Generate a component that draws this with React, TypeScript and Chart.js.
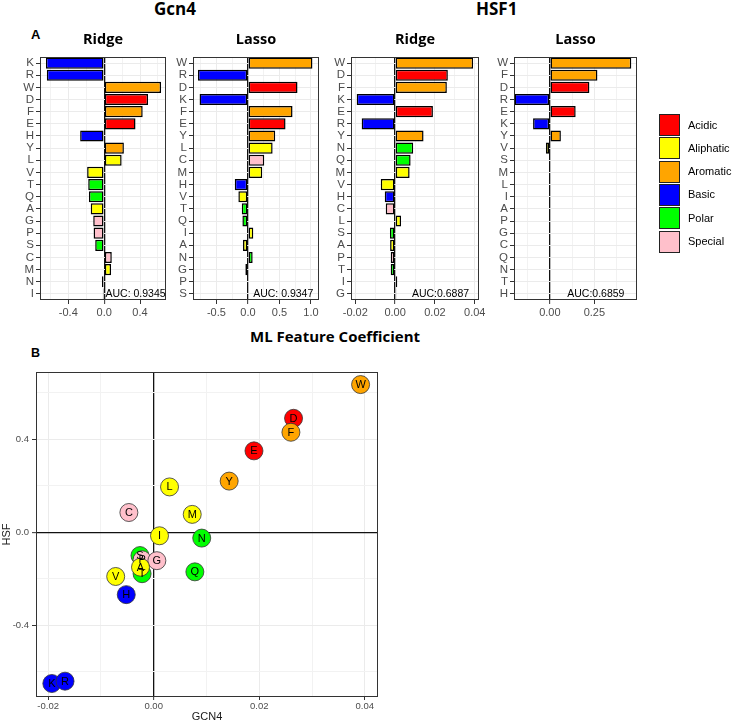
import React, { useEffect, useRef } from "react";
import { Chart, registerables } from "chart.js";

Chart.register(...registerables);

// ---------------- data ----------------
const classNames = ["Acidic", "Aliphatic", "Aromatic", "Basic", "Polar", "Special"];
const classColors = ["#FF0000", "#FFFF00", "#FFA500", "#0000FF", "#00FF00", "#FFC0CB"];
const aminoAcids = ["A", "C", "D", "E", "F", "G", "H", "I", "K", "L", "M", "N", "P", "Q", "R", "S", "T", "V", "W", "Y"];
const aminoClass = [1, 5, 0, 0, 2, 5, 3, 1, 3, 1, 1, 4, 5, 4, 3, 4, 4, 1, 2, 2];

const gcn4RidgeOrder = ["K", "R", "W", "D", "F", "E", "H", "Y", "L", "V", "T", "Q", "A", "G", "P", "S", "C", "M", "N", "I"];
const gcn4RidgeValues = [-0.65, -0.64, 0.635, 0.49, 0.43, 0.35, -0.268, 0.22, 0.195, -0.19, -0.178, -0.17, -0.15, -0.122, -0.118, -0.1, 0.085, 0.077, -0.025, -0.015];

const gcn4LassoOrder = ["W", "R", "D", "K", "F", "E", "Y", "L", "C", "M", "H", "V", "T", "Q", "I", "A", "N", "G", "P", "S"];
const gcn4LassoValues = [1.024, -0.793, 0.787, -0.768, 0.708, 0.597, 0.433, 0.392, 0.259, 0.227, -0.209, -0.152, -0.098, -0.088, 0.085, -0.078, 0.075, -0.041, 0, 0];

const hsf1RidgeOrder = ["W", "D", "F", "K", "E", "R", "Y", "N", "Q", "M", "V", "H", "C", "L", "S", "A", "P", "T", "I", "G"];
const hsf1RidgeValues = [0.0392, 0.0265, 0.026, -0.0193, 0.019, -0.0168, 0.0143, 0.0091, 0.0078, 0.0073, -0.0072, -0.0052, -0.0047, 0.003, -0.0026, -0.0025, -0.0022, -0.0022, 0.0011, 0.0006];

const hsf1LassoOrder = ["W", "F", "D", "R", "E", "K", "Y", "V", "S", "M", "L", "I", "A", "P", "G", "C", "Q", "N", "T", "H"];
const hsf1LassoValues = [0.457, 0.267, 0.222, -0.198, 0.145, -0.094, 0.062, -0.022, 0, 0, 0, 0, 0, 0, 0, 0, 0, 0, 0, 0];

// drawing order of the scatter points (later ones on top)
const scatterOrder = ["K", "R", "W", "D", "F", "E", "H", "Y", "L", "V", "Q", "S", "P", "G", "T", "A", "C", "M", "N", "I"];

const gcn4RidgeTicks = [-0.4, 0, 0.4];
const gcn4RidgeTickLabels = ["-0.4", "0.0", "0.4"];
const gcn4RidgeMinor = [-0.6, -0.2, 0.2, 0.6];
const gcn4LassoTicks = [-0.5, 0, 0.5, 1.0];
const gcn4LassoTickLabels = ["-0.5", "0.0", "0.5", "1.0"];
const gcn4LassoMinor = [-0.75, -0.25, 0.25, 0.75];
const hsf1RidgeTicks = [-0.02, 0, 0.02, 0.04];
const hsf1RidgeTickLabels = ["-0.02", "0.00", "0.02", "0.04"];
const hsf1RidgeMinor = [-0.01, 0.01, 0.03];
const hsf1LassoTicks = [0, 0.25];
const hsf1LassoTickLabels = ["0.00", "0.25"];
const hsf1LassoMinor = [-0.125, 0.125, 0.375];

const scatterXTicks = [-0.02, 0, 0.02, 0.04];
const scatterXTickLabels = ["-0.02", "0.00", "0.02", "0.04"];
const scatterXMinor = [-0.01, 0.01, 0.03];
const scatterYTicks = [-0.4, 0, 0.4];
const scatterYTickLabels = ["-0.4", "0.0", "0.4"];
const scatterYMinor = [-0.6, -0.2, 0.2, 0.6];

const aucTexts = ["AUC: 0.9345", "AUC: 0.9347", "AUC:0.6887", "AUC:0.6859"];
const aucXs = [0.35, 0.56, 0.0228, 0.258];
const methodTitles = ["Ridge", "Lasso", "Ridge", "Lasso"];
const groupTitles = ["Gcn4", "HSF1"];

// ---------------- helpers ----------------
const FONT = "'Liberation Sans', Arial, sans-serif";
const BOLD_FONT = "'Open Sans', 'DejaVu Sans', sans-serif";
const colorOf = (aa: string) => classColors[aminoClass[aminoAcids.indexOf(aa)]];
const lookup = (order: string[], values: number[], aa: string) => values[order.indexOf(aa)];
const near = (a: number, b: number) => Math.abs(a - b) < 1e-9;

function linearAxis(o: any) {
  const all = [...o.major, ...o.minor].sort((a: number, b: number) => a - b);
  const isMajor = (v: number) => o.major.some((m: number) => near(m, v));
  return {
    type: "linear",
    position: o.position,
    min: o.min,
    max: o.max,
    afterBuildTicks: (s: any) => {
      s.ticks = all.map((v: number) => ({ value: v }));
    },
    afterFit: (s: any) => {
      if (o.position === "bottom") s.height = o.size;
      else s.width = o.size;
    },
    title: o.title
      ? { display: true, text: o.title, font: { family: FONT, size: 11 }, color: "#1a1a1a", padding: 0 }
      : { display: false },
    ticks: {
      autoSkip: false,
      maxRotation: 0,
      minRotation: 0,
      padding: o.pad,
      color: "#4D4D4D",
      font: { family: FONT, size: o.fontSize },
      callback: (v: number) => {
        const i = o.major.findIndex((m: number) => near(m, v));
        return i >= 0 ? o.labels[i] : "";
      },
    },
    grid: {
      drawTicks: true,
      tickLength: o.tickLen,
      color: (c: any) => (c.tick && near(c.tick.value, 0) ? "#111" : c.tick && isMajor(c.tick.value) ? "#EBEBEB" : "#F2F2F2"),
      lineWidth: (c: any) => (c.tick && near(c.tick.value, 0) ? 1.3 : 1),
      tickColor: (c: any) => (c.tick && isMajor(c.tick.value) ? "#333" : "rgba(0,0,0,0)"),
      tickWidth: 1,
    },
    border: { display: false },
  };
}

const frame = {
  id: "frame",
  afterDatasetsDraw(chart: any) {
    const { ctx, chartArea: a } = chart;
    ctx.save();
    ctx.strokeStyle = "#333";
    ctx.lineWidth = 1;
    ctx.strokeRect(a.left + 0.5, a.top + 0.5, a.width - 1, a.height - 1);
    ctx.restore();
  },
};

function barConfig(order: string[], values: number[], p: any) {
  const panelText = {
    id: "panelText",
    afterDraw(chart: any) {
      const { ctx, chartArea: a, scales } = chart;
      ctx.save();
      ctx.fillStyle = "#000";
      ctx.textAlign = "center";
      ctx.textBaseline = "middle";
      ctx.font = `bold 14.5px ${BOLD_FONT}`;
      ctx.fillText(p.title, (a.left + a.right) / 2, a.top - 17);
      ctx.font = `10.5px ${FONT}`;
      ctx.fillText(p.auc, scales.x.getPixelForValue(p.aucX), scales.y.getPixelForValue(order.length - 1));
      ctx.restore();
    },
  };
  return {
    type: "bar",
    data: {
      labels: order,
      datasets: [
        {
          data: values,
          backgroundColor: order.map(colorOf),
          borderColor: "#000",
          borderWidth: 1.5,
          borderSkipped: false,
          barPercentage: 0.92,
          categoryPercentage: 1,
        },
      ],
    },
    options: {
      indexAxis: "y",
      animation: false,
      responsive: false,
      devicePixelRatio: 1,
      events: [],
      layout: { padding: { top: 29, right: 10, bottom: 0, left: 0 } },
      plugins: { legend: { display: false }, tooltip: { enabled: false } },
      scales: {
        x: linearAxis({
          position: "bottom",
          min: p.min,
          max: p.max,
          major: p.major,
          labels: p.labels,
          minor: p.minor,
          fontSize: 11,
          tickLen: 4,
          pad: 2,
          size: 22,
        }),
        y: {
          type: "category",
          position: "left",
          afterFit: (s: any) => {
            s.width = 34;
          },
          ticks: { autoSkip: false, padding: 2, color: "#4D4D4D", font: { family: FONT, size: 11.5 } },
          grid: { offset: false, color: "#EBEBEB", tickColor: "#333", tickLength: 4 },
          border: { display: false },
        },
      },
    },
    plugins: [frame, panelText],
  };
}

function scatterConfig() {
  const order = scatterOrder;
  const points = order.map((aa) => ({
    x: lookup(hsf1RidgeOrder, hsf1RidgeValues, aa),
    y: lookup(gcn4RidgeOrder, gcn4RidgeValues, aa),
  }));
  const pointText = {
    id: "pointText",
    afterDatasetsDraw(chart: any) {
      const { ctx } = chart;
      const meta = chart.getDatasetMeta(0);
      ctx.save();
      ctx.fillStyle = "#000";
      ctx.textAlign = "center";
      ctx.textBaseline = "middle";
      ctx.font = `11px ${FONT}`;
      meta.data.forEach((el: any, i: number) => ctx.fillText(order[i], el.x, el.y + 0.5));
      ctx.restore();
    },
  };
  return {
    type: "scatter",
    data: {
      datasets: [
        {
          data: points,
          pointRadius: 9,
          pointBackgroundColor: order.map(colorOf),
          pointBorderColor: "#333",
          pointBorderWidth: 0.8,
        },
      ],
    },
    options: {
      animation: false,
      responsive: false,
      devicePixelRatio: 1,
      events: [],
      layout: { padding: { top: 10, right: 12, bottom: 0, left: 0 } },
      plugins: { legend: { display: false }, tooltip: { enabled: false } },
      scales: {
        x: linearAxis({
          position: "bottom",
          min: -0.0223,
          max: 0.0425,
          major: scatterXTicks,
          labels: scatterXTickLabels,
          minor: scatterXMinor,
          fontSize: 9.5,
          tickLen: 3,
          pad: 1,
          size: 27,
          title: "GCN4",
        }),
        y: linearAxis({
          position: "left",
          min: -0.708,
          max: 0.689,
          major: scatterYTicks,
          labels: scatterYTickLabels,
          minor: scatterYMinor,
          fontSize: 9.5,
          tickLen: 4,
          pad: 3,
          size: 36,
          title: "HSF",
        }),
      },
    },
    plugins: [frame, pointText],
  };
}

function ChartBox(props: { left: number; top: number; width: number; height: number; build: () => any }) {
  const ref = useRef<HTMLCanvasElement>(null);
  useEffect(() => {
    const chart = new Chart(ref.current as HTMLCanvasElement, props.build());
    return () => chart.destroy();
  }, []);
  return (
    <canvas
      ref={ref}
      width={props.width}
      height={props.height}
      style={{ position: "absolute", left: props.left, top: props.top, width: props.width, height: props.height }}
    />
  );
}

// plot-area placement (page px)
const barPanels = [
  { l: 40, r: 166, order: gcn4RidgeOrder, values: gcn4RidgeValues, min: -0.716, max: 0.69, major: gcn4RidgeTicks, labels: gcn4RidgeTickLabels, minor: gcn4RidgeMinor },
  { l: 193, r: 319, order: gcn4LassoOrder, values: gcn4LassoValues, min: -0.872, max: 1.128, major: gcn4LassoTicks, labels: gcn4LassoTickLabels, minor: gcn4LassoMinor },
  { l: 351, r: 479, order: hsf1RidgeOrder, values: hsf1RidgeValues, min: -0.02215, max: 0.04215, major: hsf1RidgeTicks, labels: hsf1RidgeTickLabels, minor: hsf1RidgeMinor },
  { l: 514, r: 637, order: hsf1LassoOrder, values: hsf1LassoValues, min: -0.201, max: 0.489, major: hsf1LassoTicks, labels: hsf1LassoTickLabels, minor: hsf1LassoMinor },
];

export default function App() {
  const bold = (size: number, fam = BOLD_FONT) => ({ fontFamily: fam, fontWeight: 700, fontSize: size, lineHeight: 1, color: "#000" });
  return (
    <div style={{ position: "absolute", left: 0, top: 0, width: 736, height: 724, background: "#fff", overflow: "hidden" }}>
      <div style={{ position: "absolute", left: 75, top: 0.3, width: 200, textAlign: "center", ...bold(17) }}>{groupTitles[0]}</div>
      <div style={{ position: "absolute", left: 396.7, top: 0.3, width: 200, textAlign: "center", ...bold(17) }}>{groupTitles[1]}</div>
      <div style={{ position: "absolute", left: 31, top: 28.3, ...bold(13, FONT) }}>A</div>
      <div style={{ position: "absolute", left: 31, top: 346.7, ...bold(12.5, FONT) }}>B</div>
      <div style={{ position: "absolute", left: 185, top: 329, width: 300, textAlign: "center", ...bold(15) }}>ML Feature Coefficient</div>

      {barPanels.map((p, i) => {
        const left = p.l - 34;
        const width = p.r - left + 10;
        return (
          <ChartBox
            key={i}
            left={left}
            top={28}
            width={width}
            height={294}
            build={() =>
              barConfig(p.order, p.values, {
                min: p.min,
                max: p.max,
                major: p.major,
                labels: p.labels,
                minor: p.minor,
                title: methodTitles[i],
                auc: aucTexts[i],
                aucX: aucXs[i],
              })
            }
          />
        );
      })}

      {classNames.map((name, i) => (
        <React.Fragment key={name}>
          <div
            style={{
              position: "absolute",
              left: 659,
              top: 114 + i * 23.3,
              width: 21,
              height: 22,
              boxSizing: "border-box",
              border: "1.5px solid #222",
              background: classColors[i],
            }}
          />
          <div
            style={{
              position: "absolute",
              left: 688,
              top: 114 + i * 23.3 + 4.5,
              fontFamily: FONT,
              fontSize: 11,
              lineHeight: "13px",
              color: "#000",
            }}
          >
            {name}
          </div>
        </React.Fragment>
      ))}

      <ChartBox left={0} top={362} width={390} height={362} build={scatterConfig} />
    </div>
  );
}
